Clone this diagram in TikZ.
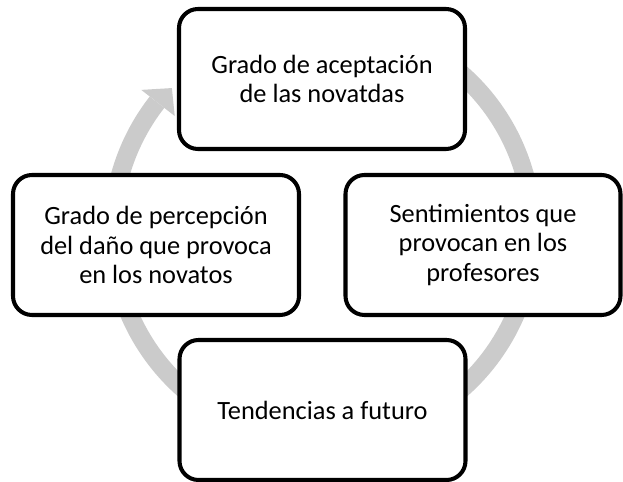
\documentclass[tikz,border=0pt]{standalone}
\usepackage{fontspec}
\setmainfont{Carlito}
\usetikzlibrary{calc}
\definecolor{ringgray}{HTML}{CBCBCB}
\tikzset{
	% ------- every something
	every node/.style={
		font=\fontsize{15pt}{16.8pt}\selectfont,
	},
	% ------- custom
	stage/.style={
		draw=black,
		fill=white,
		line width=2.3pt,
		rounded corners=0.38cm,
		minimum width=5.72cm,
		minimum height=2.8cm,
		align=center,
	},
	ring/.style={
		draw=ringgray,
		line width=0.37cm,
	},
}
\begin{document}
\begin{tikzpicture}[scale=1.0]

% frame %{{{1

	\useasboundingbox (0,0) rectangle (12.46,9.64);

% coordinates %{{{1

	\coordinate (O) at (6.45,5.01);
	\coordinate (T) at (6.44,8.06);
	\coordinate (L) at (3.12,4.74);
	\coordinate (R) at (9.66,4.74);
	\coordinate (B) at (6.45,1.44);

% ring, arrow %{{{1

	\draw[ring] ($(O)+(60:4.2)$) arc (60:-218:4.2);
	\fill[ringgray] ($(O)+(142:4.6)$) -- ($(O)+(136.4:4.16)$) -- ($(O)+(142:3.75)$) -- cycle;

% stages %{{{1

	\node[stage] (aceptacion) at (T) {Grado de aceptación\\de las novatdas};
	\node[stage, minimum width=5.5cm] (sentimientos) at (R) {Sentimientos que\\provocan en los\\profesores};
	\node[stage] (tendencias) at (B) {Tendencias a futuro};
	\node[stage] (percepcion) at (L) {Grado de percepción\\del daño que provoca\\en los novatos};

% closing %{{{1

\end{tikzpicture}
\end{document}
